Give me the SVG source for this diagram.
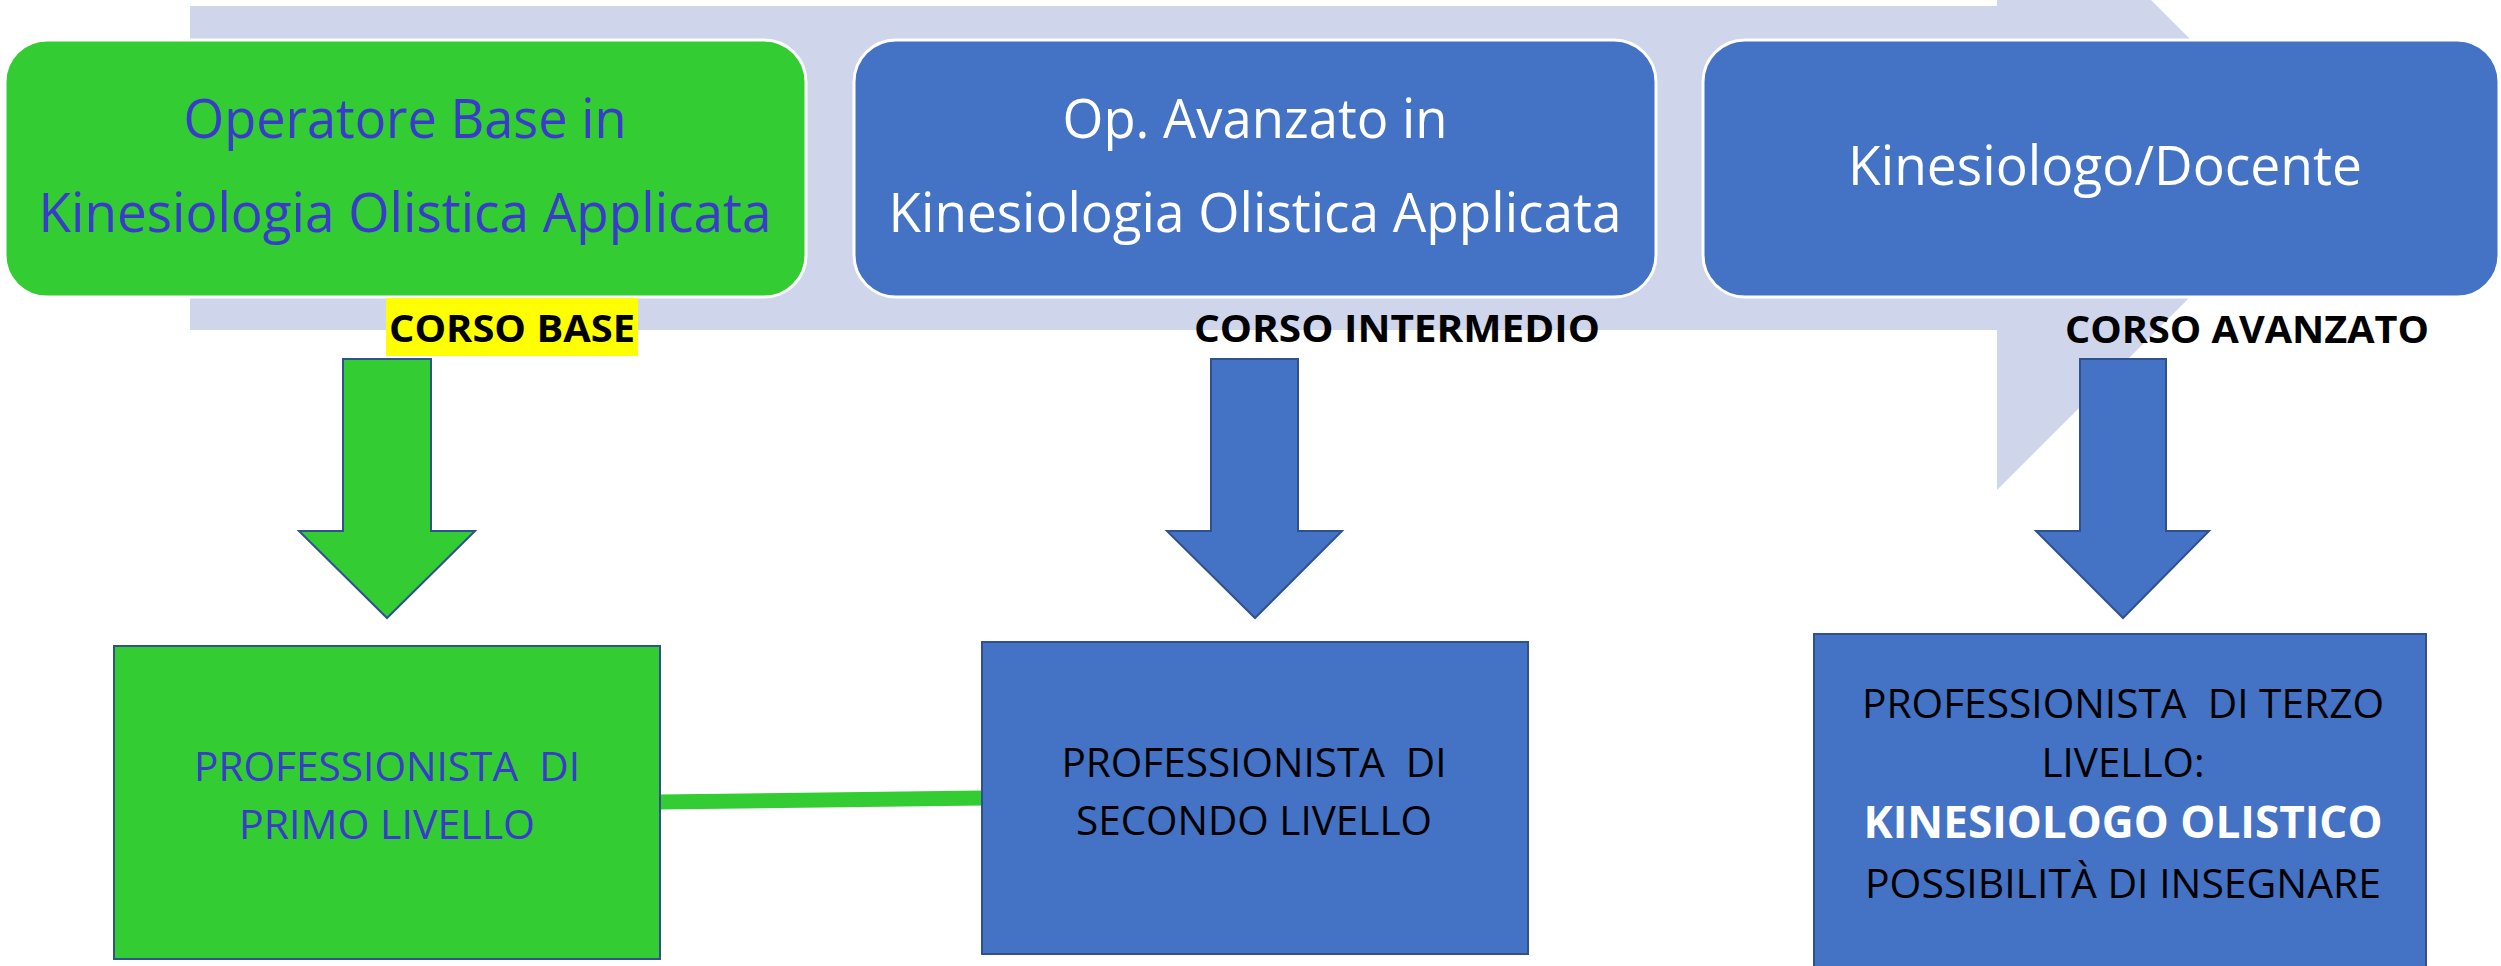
<svg xmlns="http://www.w3.org/2000/svg" width="2501" height="966" viewBox="0 0 2501 966">
<style>
text{font-family:"Open Sans","Liberation Sans",sans-serif;text-anchor:middle;white-space:pre}
.top{fill:#4472C4;stroke:#FFFFFF;stroke-width:3}
.topg{fill:#33CC33;stroke:#FFFFFF;stroke-width:3}
.big{font-size:55px}
.lbl{font-size:38px;font-weight:bold;fill:#000}
.low{stroke:#2F528F;stroke-width:2}
.mid{font-size:41px}
.g{fill:#33CC33}
.b{fill:#4472C4}
.tb{fill:#3A3ACC}
.tw{fill:#FFFFFF}
.tk{fill:#000000}
</style>
<g id="background-arrow">
<polygon points="190,6 1997,6 1997,-154 2319,168 1997,490 1997,330 190,330" fill="#CFD5EA"/>
</g>
<g id="node-operatore-base">
<rect class="topg" x="5" y="40" width="801" height="257" rx="42" ry="42"/>
<text class="big tb" x="405" y="138" textLength="443" lengthAdjust="spacingAndGlyphs">Operatore Base in</text>
<text class="big tb" x="405" y="232" textLength="733" lengthAdjust="spacingAndGlyphs">Kinesiologia Olistica Applicata</text>
</g>
<g id="node-op-avanzato">
<rect class="top" x="854" y="40" width="802" height="257" rx="42" ry="42"/>
<text class="big tw" x="1255" y="138" textLength="385" lengthAdjust="spacingAndGlyphs">Op. Avanzato in</text>
<text class="big tw" x="1255" y="232" textLength="733" lengthAdjust="spacingAndGlyphs">Kinesiologia Olistica Applicata</text>
</g>
<g id="node-kinesiologo-docente">
<rect class="top" x="1703" y="40" width="796" height="257" rx="42" ry="42"/>
<text class="big tw" x="2105" y="185" textLength="514" lengthAdjust="spacingAndGlyphs">Kinesiologo/Docente</text>
</g>
<g id="label-corso-base">
<rect x="386" y="298" width="252" height="58" fill="#FFFF00"/>
<text class="lbl" x="512" y="342" textLength="246" lengthAdjust="spacingAndGlyphs">CORSO BASE</text>
</g>
<g id="label-corso-intermedio">
<text class="lbl" x="1397" y="342" textLength="406" lengthAdjust="spacingAndGlyphs">CORSO INTERMEDIO</text>
</g>
<g id="label-corso-avanzato">
<text class="lbl" x="2247" y="343" textLength="364" lengthAdjust="spacingAndGlyphs">CORSO AVANZATO</text>
</g>
<g id="connectors">
<polygon class="g low" points="343,359 431,359 431,531 475,531 387,618 299,531 343,531"/>
<polygon class="b low" points="1211,359 1298,359 1298,531 1342,531 1255,618 1167,531 1211,531"/>
<polygon class="b low" points="2080,359 2166,359 2166,531 2209,531 2123,618 2036,531 2080,531"/>
<line x1="659" y1="802" x2="983" y2="798" stroke="#33CC33" stroke-width="15"/>
</g>
<g id="node-primo-livello">
<rect class="g low" x="114" y="646" width="546" height="313"/>
<text class="mid tb" x="387" y="781" textLength="386" lengthAdjust="spacingAndGlyphs">PROFESSIONISTA  DI</text>
<text class="mid tb" x="387" y="839" textLength="296" lengthAdjust="spacingAndGlyphs">PRIMO LIVELLO</text>
</g>
<g id="node-secondo-livello">
<rect class="b low" x="982" y="642" width="546" height="312"/>
<text class="mid tk" x="1254" y="777" textLength="385" lengthAdjust="spacingAndGlyphs">PROFESSIONISTA  DI</text>
<text class="mid tk" x="1254" y="835" textLength="356" lengthAdjust="spacingAndGlyphs">SECONDO LIVELLO</text>
</g>
<g id="node-terzo-livello">
<rect class="b low" x="1814" y="634" width="612" height="345"/>
<text class="mid tk" x="2123" y="718" textLength="522" lengthAdjust="spacingAndGlyphs">PROFESSIONISTA  DI TERZO</text>
<text class="mid tk" x="2123" y="777" textLength="163" lengthAdjust="spacingAndGlyphs">LIVELLO:</text>
<text class="tw" x="2123" y="838" font-size="45" font-weight="bold" textLength="519" lengthAdjust="spacingAndGlyphs">KINESIOLOGO OLISTICO</text>
<text class="mid tk" x="2123" y="898" textLength="516" lengthAdjust="spacingAndGlyphs">POSSIBILITÀ DI INSEGNARE</text>
</g>
</svg>
